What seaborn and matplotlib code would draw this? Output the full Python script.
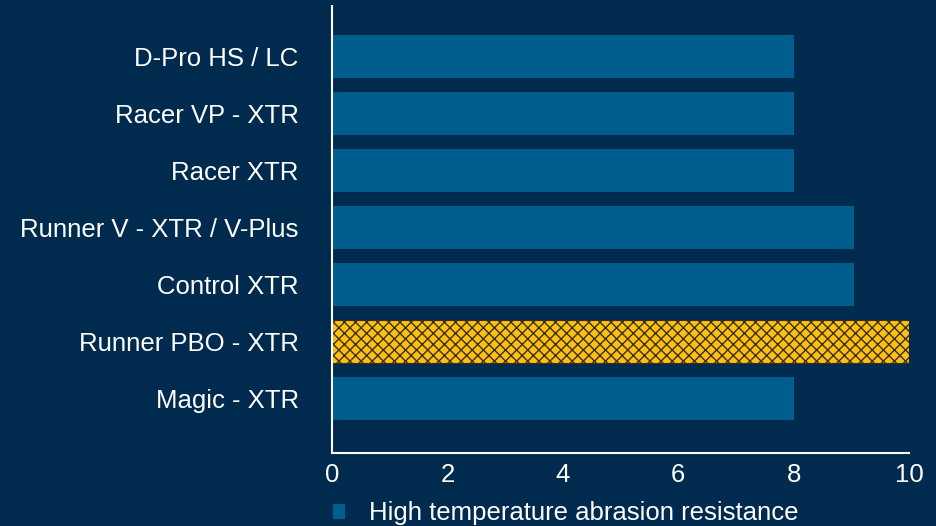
import matplotlib
matplotlib.use("Agg")
import matplotlib.pyplot as plt
import seaborn as sns
import pandas as pd
from matplotlib.patches import Patch

categories = ["D-Pro HS / LC", "Racer VP - XTR", "Racer XTR",
              "Runner V - XTR / V-Plus", "Control XTR", "Runner PBO - XTR", "Magic - XTR"]
values = [8, 8, 8, 9.05, 9.05, 10, 8]
highlight = "Runner PBO - XTR"
series_name = "High temperature abrasion resistance"
xticks = [0, 2, 4, 6, 8, 10]

BG = "#002b4f"
BAR = "#005e8f"
YELLOW = "#fbbf16"
HATCH = "#3b3010"
WHITE = "#ffffff"

sns.set_theme(style="white")
plt.rcParams["font.family"] = ["Liberation Sans", "DejaVu Sans"]
plt.rcParams["hatch.linewidth"] = 1.0

df = pd.DataFrame({"category": categories, "value": values})

fig = plt.figure(figsize=(9.36, 5.26), dpi=100, facecolor=BG)
ax = fig.add_axes([332 / 936, 1 - 453 / 526, (909 - 332) / 936, (453 - 6) / 526])
ax.set_facecolor(BG)

sns.barplot(data=df, x="value", y="category", color=BAR, saturation=1,
            width=0.75, ax=ax, orient="h")

for patch, cat in zip(ax.patches, categories):
    patch.set_edgecolor("none")
    if cat == highlight:
        patch.set_facecolor(YELLOW)
        patch.set_edgecolor(HATCH)
        patch.set_hatch("xxx")
        patch.set_linewidth(0.8)

ax.set_xlim(0, 10)
ax.set_ylim(len(categories) - 1 + 0.95, -0.88)
ax.set_xticks(xticks)
ax.set_xticklabels([str(t) for t in xticks])
ax.set_xlabel("")
ax.set_ylabel("")

for s in ["top", "right"]:
    ax.spines[s].set_visible(False)
for s in ["left", "bottom"]:
    ax.spines[s].set_color(WHITE)
    ax.spines[s].set_linewidth(1.5)

ax.tick_params(axis="x", direction="in", length=9.5, width=1.5, color=WHITE,
               labelcolor=WHITE, labelsize=18.5, pad=7)
ax.tick_params(axis="y", length=0, labelcolor=WHITE, labelsize=18.5, pad=24)

handle = Patch(facecolor=BAR, edgecolor="none", label=series_name)
leg = fig.legend(handles=[handle], loc="lower left",
                 bbox_to_anchor=(330 / 936, -2 / 526), frameon=False,
                 fontsize=18.5, handlelength=0.5, handleheight=0.5,
                 handletextpad=0.9, borderpad=0.1, borderaxespad=0)
for t in leg.get_texts():
    t.set_color(WHITE)

fig.savefig("out.png", dpi=100, facecolor=BG)
